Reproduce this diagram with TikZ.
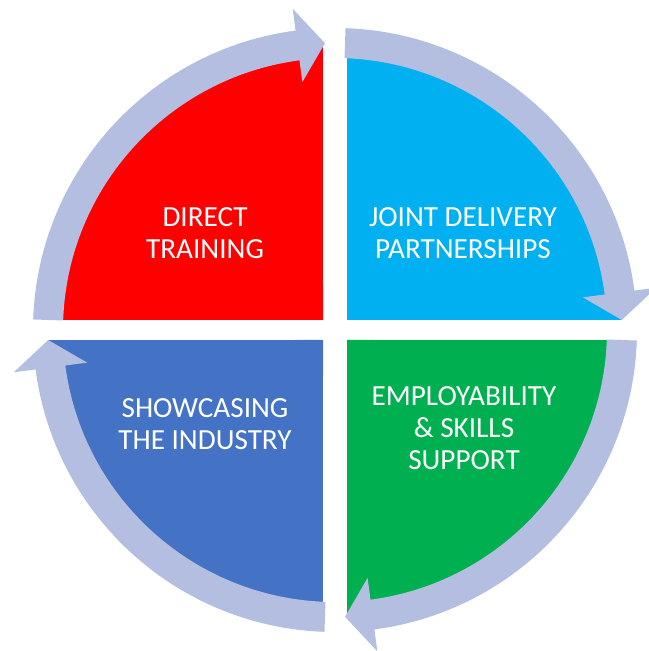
\documentclass[tikz,border=0pt]{standalone}
\usepackage{fontspec}
\setmainfont{Carlito}
\definecolor{qred}{RGB}{255,0,0}
\definecolor{qcyan}{RGB}{0,176,240}
\definecolor{qgreen}{RGB}{0,176,80}
\definecolor{qblue}{RGB}{68,114,196}
\definecolor{ringcol}{RGB}{180,190,224}
\begin{document}
\begin{tikzpicture}[x=0.01cm,y=0.01cm,
  ringarrow/.style={fill=ringcol},
  label/.style={text=white,align=center,font=\fontsize{8.3}{9.2}\selectfont}]
\useasboundingbox (0,0) rectangle (649,651);
\begin{scope}[shift={(335,321)}]
  % four quadrants, separated by a cross-shaped gap
  \fill[qred]   (-12,10)  -- (178.0:287) arc[start angle=178.0,end angle=92.4,radius=287] -- cycle;
  \fill[qcyan]  (12,10)   -- (87.6:287)  arc[start angle=87.6,end angle=2.0,radius=287] -- cycle;
  \fill[qgreen] (12,-10)  -- (-2.0:287)  arc[start angle=-2.0,end angle=-87.6,radius=287] -- cycle;
  \fill[qblue]  (-12,-10) -- (-92.4:287) arc[start angle=-92.4,end angle=-178.0,radius=287] -- cycle;
  % clockwise ring arrows, one per quadrant
  \foreach \r in {0,-90,-180,-270}{
    \fill[ringarrow,rotate=\r]
      (178:302) arc[start angle=178,end angle=97.5,radius=302]
      -- (97.5:324) -- (92:287) -- (97.5:250) -- (97.5:272)
      arc[start angle=97.5,end angle=178,radius=272] -- cycle;
  }
\end{scope}
\node[label] (dt) at (205,418) {DIRECT\\TRAINING};
\node[label] (jd) at (463,418) {JOINT DELIVERY\\PARTNERSHIPS};
\node[label] (es) at (464,223) {EMPLOYABILITY\\\& SKILLS\\SUPPORT};
\node[label] (si) at (205,227) {SHOWCASING\\THE INDUSTRY};
\end{tikzpicture}
\end{document}
